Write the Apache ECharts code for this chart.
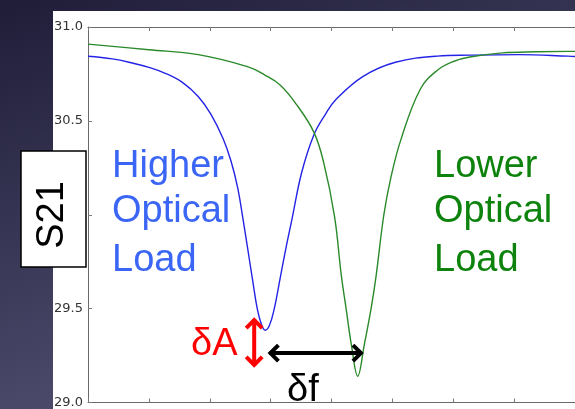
<!DOCTYPE html>
<html>
<head>
<meta charset="utf-8">
<script src="https://cdn.jsdelivr.net/npm/echarts@6/dist/echarts.min.js"></script>
<style>
  html, body { margin: 0; padding: 0; background: #2c2a48; }
  #chart { width: 575px; height: 409px; }
</style>
</head>
<body>
<div id="chart"></div>
<script>
// Resonator transmission (S21) vs. frequency, two optical loads
const blueFreq = [0.00, 0.40, 0.73, 1.00, 1.28, 1.55, 1.81, 2.02, 2.22, 2.35, 2.46, 2.54, 2.62, 2.70, 2.78, 2.85, 2.91, 2.98, 3.06, 3.16, 3.25, 3.35, 3.51, 3.71, 3.90, 4.08, 4.52, 5.05, 5.74, 6.27, 7.08, 7.89, 8.00];
const blueS21  = [30.844, 30.830, 30.808, 30.785, 30.752, 30.705, 30.630, 30.535, 30.405, 30.285, 30.142, 29.990, 29.826, 29.660, 29.500, 29.415, 29.385, 29.410, 29.500, 29.668, 29.820, 29.975, 30.225, 30.425, 30.535, 30.616, 30.737, 30.812, 30.845, 30.850, 30.853, 30.845, 30.843];

const greenFreq = [0.00, 1.00, 1.81, 2.62, 2.90, 3.16, 3.43, 3.71, 3.87, 4.05, 4.16, 4.24, 4.33, 4.43, 4.54, 4.65, 4.73, 4.86, 4.97, 5.14, 5.46, 5.74, 5.99, 6.27, 6.81, 7.36, 7.89, 8.00];
const greenS21  = [30.909, 30.879, 30.853, 30.789, 30.745, 30.690, 30.585, 30.440, 30.280, 29.990, 29.680, 29.500, 29.300, 29.140, 29.310, 29.500, 29.668, 30.000, 30.190, 30.400, 30.670, 30.770, 30.815, 30.840, 30.862, 30.868, 30.870, 30.870];

// Axis ranges
const freqMin = 0, freqMax = 8, freqStep = 1;
const s21Min = 29.0, s21Max = 31.0, s21Step = 0.5;

// Annotation anchors in data units: amplitude shift and frequency shift
const deltaA = { freq: 2.73, from: 29.444, to: 29.195 };
const deltaF = { s21: 29.263, from: 2.98, to: 4.50 };

const blueLabelRows  = ['Higher', 'Optical', 'Load'];
const greenLabelRows = ['Lower', 'Optical', 'Load'];

const chart = echarts.init(document.getElementById('chart'), null, { renderer: 'canvas' });

const axisLineStyle = { color: '#6a6a6a', width: 1 };
const xAxisCommon = {
  type: 'value', min: freqMin, max: freqMax, interval: freqStep,
  axisLine: { show: true, onZero: false, lineStyle: axisLineStyle },
  axisTick: { show: true, inside: true, length: 4, lineStyle: { color: '#7a7a7a' } },
  axisLabel: { show: false },
  splitLine: { show: false }
};

chart.setOption({
  animation: false,
  backgroundColor: 'transparent',
  grid: { left: 88, top: 27, width: 493, height: 380, containLabel: false },
  xAxis: [
    Object.assign({ position: 'bottom' }, xAxisCommon),
    Object.assign({ position: 'top' }, xAxisCommon)
  ],
  yAxis: {
    type: 'value', min: s21Min, max: s21Max, interval: s21Step,
    axisLine: { show: true, onZero: false, lineStyle: axisLineStyle },
    axisTick: { show: true, inside: true, length: 4, lineStyle: { color: '#7a7a7a' } },
    axisLabel: {
      formatter: v => v.toFixed(1), fontFamily: 'DejaVu Sans', fontSize: 13,
      color: '#333333', margin: 5
    },
    splitLine: { show: false }
  },
  series: [
    {
      name: 'Higher Optical Load', type: 'line', xAxisIndex: 0,
      data: blueFreq.map((f, i) => [f, blueS21[i]]),
      showSymbol: false, smooth: 0.4,
      lineStyle: { color: '#2323e6', width: 1.4 }, z: 3
    },
    {
      name: 'Lower Optical Load', type: 'line', xAxisIndex: 0,
      data: greenFreq.map((f, i) => [f, greenS21[i]]),
      showSymbol: false, smooth: 0.4,
      lineStyle: { color: '#2a8a2a', width: 1.4 }, z: 3
    }
  ]
});

const px = (f, s) => chart.convertToPixel({ xAxisIndex: 0, yAxisIndex: 0 }, [f, s]);

// Double-headed arrows built from the data anchors
const aTop = px(deltaA.freq, deltaA.from);
const aBot = px(deltaA.freq, deltaA.to);
const fL = px(deltaF.from, deltaF.s21);
const fR = px(deltaF.to, deltaF.s21);
const head = 8;

const textFont = '38px "Liberation Sans", Arial, sans-serif';
const rowY = [167, 212, 261];

const graphics = [
  { type: 'rect', z: -100, silent: true, shape: { x: 0, y: 0, width: 575, height: 409 },
    style: { fill: { type: 'linear', x: 0, y: 0, x2: 0.25, y2: 1,
      colorStops: [{ offset: 0, color: '#1f1d38' }, { offset: 1, color: '#4e4d6e' }] } } },
  { type: 'rect', z: -90, silent: true, shape: { x: 53, y: 11, width: 530, height: 400 },
    style: { fill: '#ffffff' } },
  // y-axis title box
  { type: 'rect', z: 50, shape: { x: 21, y: 151, width: 65, height: 116 },
    style: { fill: '#ffffff', stroke: '#000000', lineWidth: 1.5 } },
  { type: 'text', z: 51, x: 53, y: 215, rotation: Math.PI / 2,
    style: { text: 'S21', font: '38px "Liberation Sans", Arial, sans-serif', fill: '#000000',
      align: 'center', verticalAlign: 'middle' } },
  // δA arrow
  { type: 'polyline', z: 40, shape: { points: [aTop, aBot] },
    style: { stroke: '#ff0000', lineWidth: 4, fill: null } },
  { type: 'polyline', z: 40, shape: { points: [[aTop[0] - head, aTop[1] + head + 1], [aTop[0], aTop[1] + 1], [aTop[0] + head, aTop[1] + head + 1]] },
    style: { stroke: '#ff0000', lineWidth: 4, fill: null, lineJoin: 'miter' } },
  { type: 'polyline', z: 40, shape: { points: [[aBot[0] - head, aBot[1] - head - 1], [aBot[0], aBot[1] - 1], [aBot[0] + head, aBot[1] - head - 1]] },
    style: { stroke: '#ff0000', lineWidth: 4, fill: null, lineJoin: 'miter' } },
  // δf arrow
  { type: 'polyline', z: 40, shape: { points: [fL, fR] },
    style: { stroke: '#000000', lineWidth: 4, fill: null } },
  { type: 'polyline', z: 40, shape: { points: [[fL[0] + head + 1, fL[1] - head], [fL[0] + 1, fL[1]], [fL[0] + head + 1, fL[1] + head]] },
    style: { stroke: '#000000', lineWidth: 4, fill: null, lineJoin: 'miter' } },
  { type: 'polyline', z: 40, shape: { points: [[fR[0] - head - 1, fR[1] - head], [fR[0] - 1, fR[1]], [fR[0] - head - 1, fR[1] + head]] },
    style: { stroke: '#000000', lineWidth: 4, fill: null, lineJoin: 'miter' } },
  { type: 'text', z: 41, x: 191, y: 345,
    style: { text: 'δA', font: textFont, fill: '#ff0000', align: 'left', verticalAlign: 'middle' } },
  { type: 'text', z: 41, x: 287, y: 391,
    style: { text: 'δf', font: textFont, fill: '#000000', align: 'left', verticalAlign: 'middle' } }
];

blueLabelRows.forEach((t, i) => graphics.push({
  type: 'text', z: 30, x: 112, y: rowY[i],
  style: { text: t, font: textFont, fill: '#3b66f5', align: 'left', verticalAlign: 'middle' }
}));
greenLabelRows.forEach((t, i) => graphics.push({
  type: 'text', z: 30, x: 434, y: rowY[i],
  style: { text: t, font: textFont, fill: '#0d830d', align: 'left', verticalAlign: 'middle' }
}));

chart.setOption({ graphic: graphics });
</script>
</body>
</html>
